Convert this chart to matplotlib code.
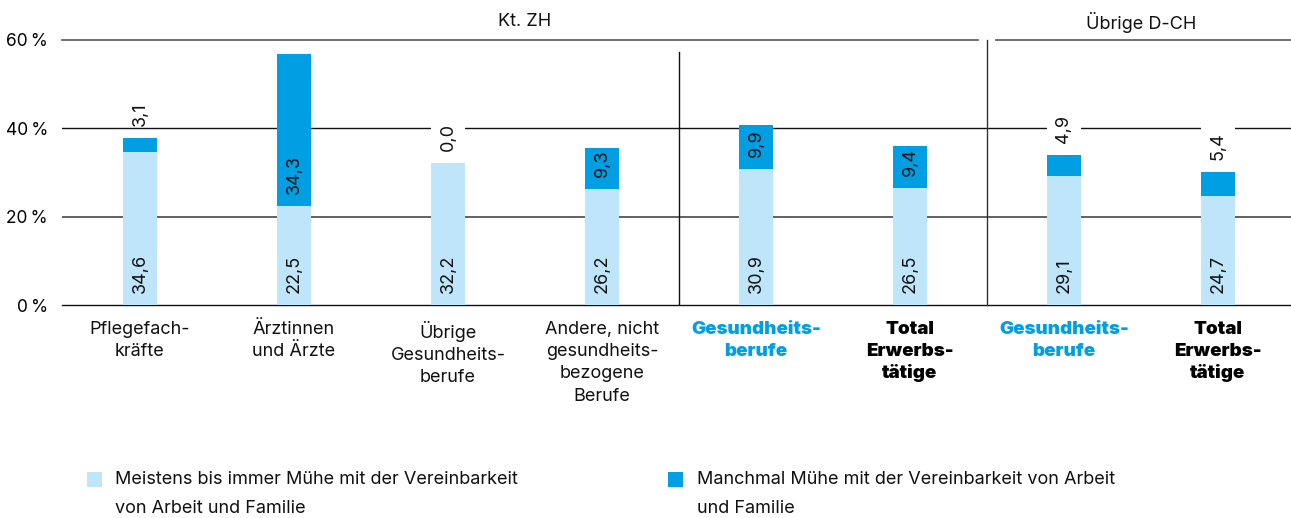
import matplotlib
matplotlib.use("Agg")
import matplotlib.pyplot as plt
from matplotlib.patches import Rectangle
import matplotlib.transforms as mtransforms

# ---------------- data ----------------
categories = ["Pflegefach-\nkräfte", "Ärztinnen\nund Ärzte", "Übrige\nGesundheits-\nberufe",
              "Andere, nicht\ngesundheits-\nbezogene\nBerufe", "Gesundheits-\nberufe",
              "Total\nErwerbs-\ntätige", "Gesundheits-\nberufe", "Total\nErwerbs-\ntätige"]
cat_style = ["normal", "normal", "normal", "normal", "blue", "black", "blue", "black"]
meistens = [34.6, 22.5, 32.2, 26.2, 30.9, 26.5, 29.1, 24.7]
manchmal = [3.1, 34.3, 0.0, 9.3, 9.9, 9.4, 4.9, 5.4]
groups = ["Kt. ZH", "Übrige D-CH"]
yticks = [0, 20, 40, 60]
legend_labels = ["Meistens bis immer Mühe mit der Vereinbarkeit\nvon Arbeit und Familie",
                 "Manchmal Mühe mit der Vereinbarkeit von Arbeit\nund Familie"]

LIGHT = "#BEE5F9"
DARK = "#009FE3"
W, H = 1291, 518

plt.rcParams['font.family'] = ['Inter', 'DejaVu Sans']
FS = 13

fig = plt.figure(figsize=(W / 100, H / 100), dpi=100)
ax = fig.add_axes([62 / W, 1 - 305 / H, (W - 62) / W, 265 / H])
x = list(range(len(categories)))
xmin, xmax = (62 - 140) / 154, (W - 140) / 154
ax.set_xlim(xmin, xmax)
ax.set_ylim(0, 60)
for s in ax.spines.values():
    s.set_visible(False)
ax.set_xticks([])
ax.set_yticks(yticks)
ax.set_yticklabels([f"{v}\u2009%" for v in yticks], fontsize=12.5)
ax.tick_params(axis='y', length=0, pad=10)

# gridlines
ax.axhline(0, color="#111111", lw=1, zorder=1, clip_on=False)
ax.axhline(20, color="#555555", lw=1.3, zorder=1)
ax.axhline(40, color="#111111", lw=1, zorder=1)
ax.plot([xmin, 5.44], [60, 60], color="#666666", lw=1.3, zorder=1, clip_on=False)
ax.plot([5.56, xmax], [60, 60], color="#666666", lw=1.3, zorder=1, clip_on=False)
# separators
ax.plot([3.5, 3.5], [0, 57.3], color="#111111", lw=1, zorder=1)
ax.plot([5.5, 5.5], [0, 60], color="#333333", lw=1, zorder=1, clip_on=False)

bw = 34 / 154
ax.bar(x, meistens, width=bw, color=LIGHT, zorder=2)
ax.bar(x, manchmal, bottom=meistens, width=bw, color=DARK, zorder=2)

px = 60 / 265  # data units per pixel
for i in x:
    ax.annotate(f"{meistens[i]:.1f}".replace(".", ","), (i, 0), xytext=(0, 12 * 0.72),
                textcoords="offset points", rotation=90, ha="center", va="bottom",
                fontsize=FS, color="#111111", zorder=4)
    top = meistens[i] + manchmal[i]
    lab = f"{manchmal[i]:.1f}".replace(".", ",")
    if manchmal[i] >= 8:
        ax.annotate(lab, (i, meistens[i]), xytext=(0, 12 * 0.72),
                    textcoords="offset points", rotation=90, ha="center", va="bottom",
                    fontsize=FS, color="#111111", zorder=4)
    else:
        ax.add_patch(Rectangle((i - bw / 2, top + 12 * px), bw, 34 * px,
                               facecolor="white", edgecolor="none", zorder=3))
        ax.annotate(lab, (i, top), xytext=(0, 12 * 0.72),
                    textcoords="offset points", rotation=90, ha="center", va="bottom",
                    fontsize=FS, color="#111111", zorder=4)

# group headers
ax.text(2.5, 60 + 18 * px, groups[0], ha="center", va="center", fontsize=FS, color="#111111")
ax.text(6.5, 60 + 18 * px, groups[1], ha="center", va="center", fontsize=FS, color="#111111")

# category labels
trans = mtransforms.blended_transform_factory(ax.transData, fig.transFigure)
for i, (lab, st) in enumerate(zip(categories, cat_style)):
    if st == "normal":
        ax.text(i, 1 - 321 / H, lab, transform=trans, ha="center", va="top",
                fontsize=FS, color="#111111", linespacing=1.4, multialignment="center")
    else:
        col = DARK if st == "blue" else "#000000"
        ax.text(i, 1 - 321 / H, lab, transform=trans, ha="center", va="top",
                fontsize=13.5, color=col, fontweight="black", linespacing=1.35,
                multialignment="center")

# legend
for (sx, tx), lab, col in zip([(87, 115), (668, 697)], legend_labels, [LIGHT, DARK]):
    fig.patches.append(Rectangle((sx / W, 1 - 487 / H), 15 / W, 15 / H,
                                 transform=fig.transFigure, facecolor=col, edgecolor="none"))
    fig.text(tx / W, 1 - 471 / H, lab, ha="left", va="top", fontsize=FS,
             color="#111111", linespacing=1.95)

fig.savefig("out.png", dpi=100)
